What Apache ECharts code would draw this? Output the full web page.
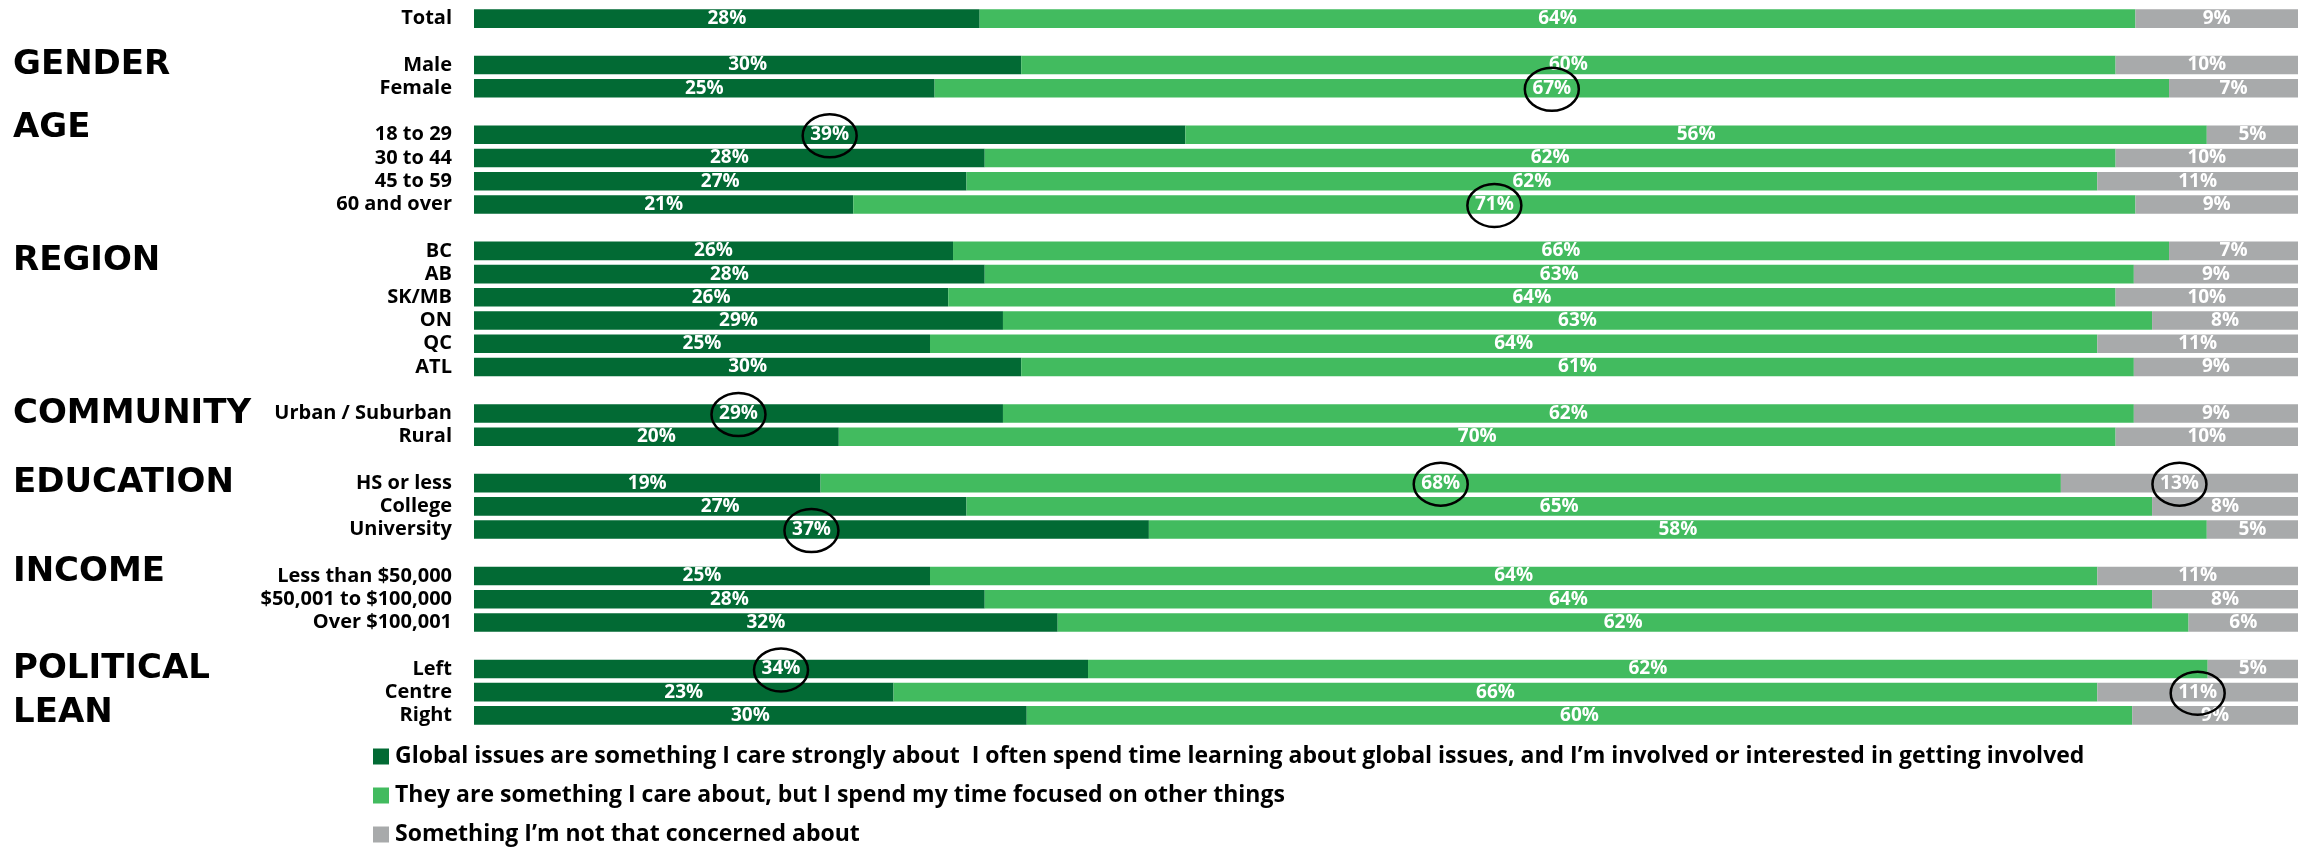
<!DOCTYPE html>
<html>
<head>
<meta charset="utf-8">
<title>Interest in global issues by demographic group</title>
<script src="https://cdn.jsdelivr.net/npm/echarts@6/dist/echarts.min.js"></script>
<style>
  html, body { margin: 0; padding: 0; background: #ffffff; }
  #chart { width: 2310px; height: 848px; }
</style>
</head>
<body>
<div id="chart"></div>
<script>
// Row labels, top to bottom; empty strings are spacer rows between groups.
const categories = [
  'Total', '',
  'Male', 'Female', '',
  '18 to 29', '30 to 44', '45 to 59', '60 and over', '',
  'BC', 'AB', 'SK/MB', 'ON', 'QC', 'ATL', '',
  'Urban / Suburban', 'Rural', '',
  'HS or less', 'College', 'University', '',
  'Less than $50,000', '$50,001 to $100,000', 'Over $100,001', '',
  'Left', 'Centre', 'Right'
];

// Percent of respondents per answer (null on spacer rows).
const careStrongly = [
  28, null,
  30, 25, null,
  39, 28, 27, 21, null,
  26, 28, 26, 29, 25, 30, null,
  29, 20, null,
  19, 27, 37, null,
  25, 28, 32, null,
  34, 23, 30
];
const careButFocused = [
  64, null,
  60, 67, null,
  56, 62, 62, 71, null,
  66, 63, 64, 63, 64, 61, null,
  62, 70, null,
  68, 65, 58, null,
  64, 64, 62, null,
  62, 66, 60
];
const notConcerned = [
  9, null,
  10, 7, null,
  5, 10, 11, 9, null,
  7, 9, 10, 8, 11, 9, null,
  9, 10, null,
  13, 8, 5, null,
  11, 8, 6, null,
  5, 11, 9
];

const seriesNames = [
  'Global issues are something I care strongly about  I often spend time learning about global issues, and I\u2019m involved or interested in getting involved',
  'They are something I care about, but I spend my time focused on other things',
  'Something I\u2019m not that concerned about'
];

// Group headings and the row each one sits beside.
const groupHeadings = [
  ['GENDER', 'Male'],
  ['AGE', '18 to 29'],
  ['REGION', 'BC'],
  ['COMMUNITY', 'Urban / Suburban'],
  ['EDUCATION', 'HS or less'],
  ['INCOME', 'Less than $50,000'],
  ['POLITICAL', 'Left'],
  ['LEAN', 'Right']
];

// Highlighted values: [row, series index].
const highlighted = [
  ['Female', 1],
  ['18 to 29', 0],
  ['60 and over', 1],
  ['Urban / Suburban', 0],
  ['HS or less', 1],
  ['HS or less', 2],
  ['University', 0],
  ['Left', 0],
  ['Centre', 2]
];

const palette = ['#026a34', '#42bb5f', '#a8aaab'];
const raw = [careStrongly, careButFocused, notConcerned];

// Each row is scaled to fill 100% (rounded labels do not always add to 100).
const rowTotals = categories.map((c, i) =>
  raw.reduce((s, arr) => s + (arr[i] == null ? 0 : arr[i]), 0));
const shares = raw.map(arr => arr.map((v, i) =>
  v == null ? null : { value: v / rowTotals[i] * 100, raw: v }));

const chart = echarts.init(document.getElementById('chart'), null, { renderer: 'canvas' });

const labelFont = '"Open Sans", Lato, "DejaVu Sans", sans-serif';
const headingFont = '"DejaVu Sans", "Open Sans", sans-serif';

chart.setOption({
  animation: false,
  backgroundColor: '#ffffff',
  grid: { left: 474, right: 12, top: 7, height: 720, containLabel: false },
  xAxis: {
    type: 'value', min: 0, max: 100, show: false
  },
  yAxis: {
    type: 'category',
    inverse: true,
    data: categories,
    axisLine: { show: false },
    axisTick: { show: false },
    splitLine: { show: false },
    axisLabel: {
      margin: 22,
      color: '#000000',
      fontFamily: labelFont,
      fontWeight: 'bold',
      fontSize: 20,
      interval: 0
    }
  },
  legend: {
    orient: 'vertical',
    left: 373,
    top: 745,
    height: 140,
    padding: 0,
    itemWidth: 16,
    itemHeight: 16,
    itemGap: 16,
    icon: 'rect',
    selectedMode: false,
    textStyle: {
      color: '#000000',
      fontFamily: labelFont,
      fontWeight: 'bold',
      fontSize: 23,
      padding: [0, 0, 0, 1]
    },
    data: seriesNames
  },
  series: seriesNames.map((name, k) => ({
    name: name,
    type: 'bar',
    stack: 'share',
    barCategoryGap: '20%',
    itemStyle: { color: palette[k] },
    label: {
      show: true,
      position: 'inside',
      color: '#ffffff',
      fontFamily: labelFont,
      fontWeight: 'bold',
      fontSize: 19,
      formatter: p => (p.data && p.data.raw != null) ? p.data.raw + '%' : ''
    },
    data: shares[k]
  }))
});

// Position group headings and highlight rings from the axis scales.
function rowY(name) {
  return chart.convertToPixel({ yAxisIndex: 0 }, categories.indexOf(name));
}
function segmentX(row, k) {
  const i = categories.indexOf(row);
  let start = 0;
  for (let j = 0; j < k; j++) start += shares[j][i].value;
  const mid = start + shares[k][i].value / 2;
  return chart.convertToPixel({ xAxisIndex: 0 }, mid);
}

const headingNudge = { AGE: -7, REGION: 10, COMMUNITY: 1, INCOME: -4, LEAN: -2 };

const graphics = [];
groupHeadings.forEach(([text, row]) => {
  graphics.push({
    type: 'text',
    x: 13,
    y: rowY(row) + (headingNudge[text] || 0),
    z: 10,
    style: {
      text: text,
      fill: '#000000',
      font: 'bold 34px ' + headingFont,
      textAlign: 'left',
      textVerticalAlign: 'middle'
    }
  });
});
highlighted.forEach(([row, k]) => {
  graphics.push({
    type: 'ellipse',
    z: 20,
    shape: { cx: segmentX(row, k), cy: rowY(row) + 1, rx: 27, ry: 21.5 },
    style: { fill: null, stroke: '#000000', lineWidth: 2.5 }
  });
});
chart.setOption({ graphic: graphics });
</script>
</body>
</html>
